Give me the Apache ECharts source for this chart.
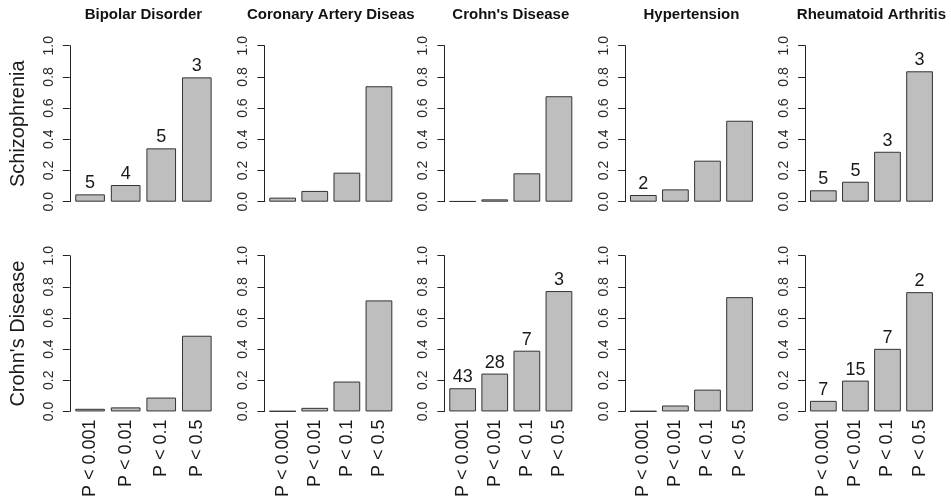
<!DOCTYPE html>
<html>
<head>
<meta charset="utf-8">
<script src="https://cdn.jsdelivr.net/npm/echarts@6/dist/echarts.min.js"></script>
<style>
  html, body { margin: 0; padding: 0; background: #fff; }
  #chart { width: 951px; height: 500px; }
</style>
</head>
<body>
<div id="chart"></div>
<script>
// Threshold categories shared by every panel
const categories = ['P < 0.001', 'P < 0.01', 'P < 0.1', 'P < 0.5'];
const yTicks = [0, 0.2, 0.4, 0.6, 0.8, 1.0];

// Column headers (target traits) and row traits
const columnTraits = ['Bipolar Disorder', 'Coronary Artery Diseas', "Crohn's Disease", 'Hypertension', 'Rheumatoid Arthritis'];
const rowTraits = ['Schizophrenia', "Crohn's Disease"];

// Schizophrenia row: proportions per threshold
const scz_bipolar      = [0.047, 0.107, 0.342, 0.797];
const scz_coronary     = [0.026, 0.069, 0.186, 0.740];
const scz_crohns       = [0.003, 0.015, 0.182, 0.676];
const scz_hypertension = [0.043, 0.079, 0.263, 0.519];
const scz_rheumatoid   = [0.073, 0.128, 0.320, 0.836];

// Crohn's Disease row: proportions per threshold
const cd_bipolar      = [0.017, 0.026, 0.089, 0.486];
const cd_coronary     = [0.002, 0.023, 0.192, 0.713];
const cd_crohns       = [0.149, 0.243, 0.390, 0.773];
const cd_hypertension = [0.002, 0.038, 0.140, 0.734];
const cd_rheumatoid   = [0.068, 0.198, 0.402, 0.766];

// Counts printed above bars (null = no label)
const scz_bipolar_n      = [5, 4, 5, 3];
const scz_hypertension_n = [2, null, null, null];
const scz_rheumatoid_n   = [5, 5, 3, 3];
const cd_crohns_n        = [43, 28, 7, 3];
const cd_rheumatoid_n    = [7, 15, 7, 2];
const noCounts           = [null, null, null, null];

const panelValues = [
  [scz_bipolar, scz_coronary, scz_crohns, scz_hypertension, scz_rheumatoid],
  [cd_bipolar, cd_coronary, cd_crohns, cd_hypertension, cd_rheumatoid]
];
const panelCounts = [
  [scz_bipolar_n, noCounts, noCounts, scz_hypertension_n, scz_rheumatoid_n],
  [noCounts, noCounts, cd_crohns_n, noCounts, cd_rheumatoid_n]
];

// Panel layout (pixels)
const colLeft   = [72.3, 266.6, 446.6, 627.3, 807.3];
const colWidth  = [142.3, 128.4, 128.4, 128.3, 128.3];
const axisShift = [2.5, 2.2, 2.2, 2.2, 2.2];
const rowTop    = [45.7, 255.7];
const rowHeight = [156, 156.6];

const FONT = '"Liberation Sans", Arial, Helvetica, sans-serif';
const INK = '#1a1a1a';

const grids = [], xAxes = [], yAxes = [], series = [], graphics = [];

for (let r = 0; r < 2; r++) {
  for (let c = 0; c < 5; c++) {
    const idx = grids.length;
    grids.push({ left: colLeft[c], top: rowTop[r], width: colWidth[c], height: rowHeight[r], containLabel: false });
    xAxes.push({
      gridIndex: idx, type: 'category', data: categories,
      axisLine: { show: false }, axisTick: { show: false },
      axisLabel: {
        show: r === 1, rotate: 90, margin: 8, interval: 0,
        fontFamily: FONT, fontSize: 18, color: INK
      }
    });
    yAxes.push({
      gridIndex: idx, type: 'value', min: 0, max: 1, interval: 0.2,
      offset: axisShift[c],
      name: c === 0 ? rowTraits[r] : '',
      nameLocation: 'middle', nameGap: 41, nameRotate: 90,
      nameTextStyle: { fontFamily: FONT, fontSize: 20, color: INK },
      axisLine: { show: true, lineStyle: { color: '#222', width: 1 } },
      axisTick: { show: true, length: 7, lineStyle: { color: '#222', width: 1 } },
      splitLine: { show: false },
      axisLabel: {
        rotate: 90, margin: 14, fontFamily: FONT, fontSize: 14, color: '#2a2a2a',
        formatter: v => yTicks.includes(+v.toFixed(1)) ? v.toFixed(1) : ''
      }
    });
    const vals = panelValues[r][c];
    const counts = panelCounts[r][c];
    series.push({
      type: 'bar', xAxisIndex: idx, yAxisIndex: idx,
      barCategoryGap: '16.67%',
      data: vals.map((v, i) => ({
        value: v,
        label: { show: counts[i] !== null, formatter: String(counts[i]) }
      })),
      itemStyle: { color: '#bebebe', borderColor: '#333', borderWidth: 1 },
      label: { position: 'top', distance: 2, fontFamily: FONT, fontSize: 18, color: INK },
      silent: true, animation: false
    });
  }
}

// Column headers
for (let c = 0; c < 5; c++) {
  graphics.push({
    type: 'text', x: colLeft[c] + colWidth[c] / 2, y: 15,
    style: { text: columnTraits[c], textAlign: 'center', textVerticalAlign: 'middle',
             font: 'bold 15px ' + FONT, fill: '#111' }
  });
}

const chart = echarts.init(document.getElementById('chart'), null, { renderer: 'canvas' });
chart.setOption({
  animation: false,
  backgroundColor: '#fff',
  grid: grids, xAxis: xAxes, yAxis: yAxes, series: series,
  graphic: graphics
});
</script>
</body>
</html>
